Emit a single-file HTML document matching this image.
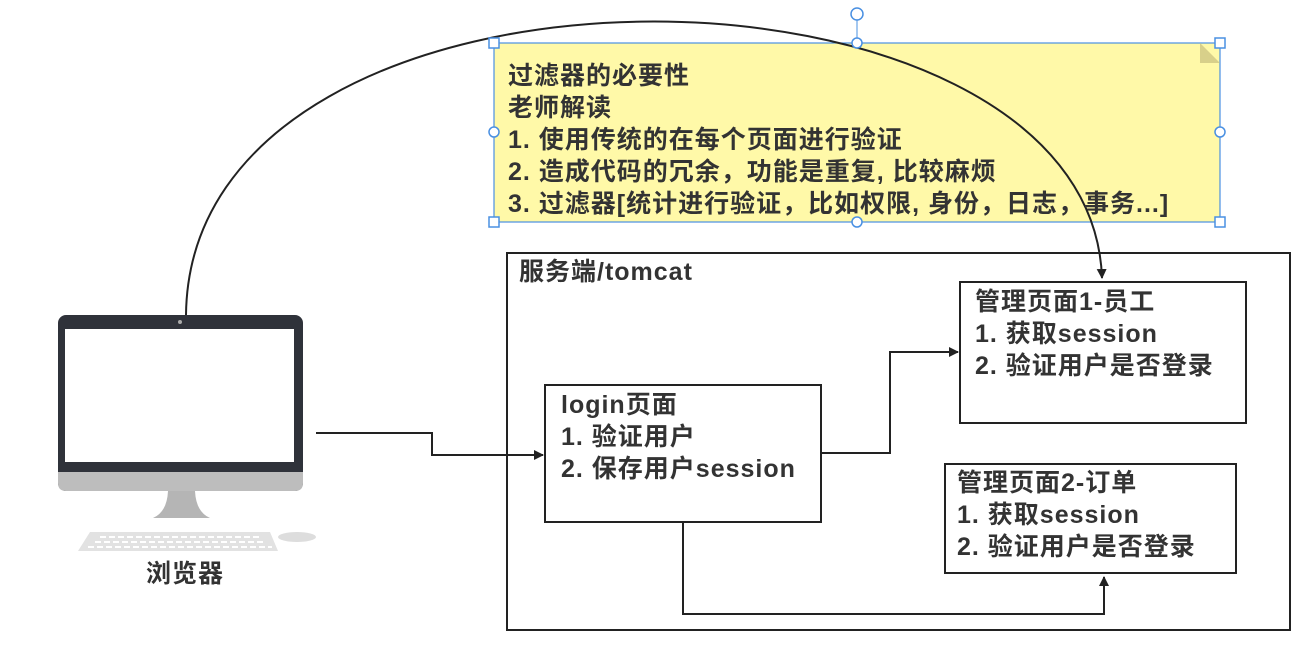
<!DOCTYPE html>
<html><head><meta charset="utf-8"><style>
body{margin:0;width:1310px;height:650px;background:#fff;overflow:hidden;position:relative;font-family:"Liberation Sans","Noto Sans CJK SC",sans-serif;font-weight:bold;color:#333}
.t{position:absolute;font-size:25px;letter-spacing:1px;line-height:32px;white-space:nowrap}
</style></head><body>
<svg width="1310" height="650" style="position:absolute;left:0;top:0">
<defs><marker id="a" markerWidth="10" markerHeight="10" refX="9" refY="5" orient="auto" markerUnits="userSpaceOnUse"><path d="M0,0 L10,5 L0,10 z" fill="#222"/></marker></defs>
<rect x="494" y="43" width="726" height="179" fill="#fff9a8" stroke="#4a90e2" stroke-width="1.2"/>
<path d="M1200 43 L1220 63 L1200 63 z" fill="#d8d08a"/>
<rect x="507" y="253" width="783" height="377" fill="none" stroke="#222" stroke-width="2"/>
<rect x="960" y="282" width="286" height="141" fill="#fff" stroke="#222" stroke-width="2"/>
<rect x="545" y="385" width="276" height="137" fill="#fff" stroke="#222" stroke-width="2"/>
<rect x="945" y="464" width="291" height="109" fill="#fff" stroke="#222" stroke-width="2"/>
<path d="M186 315 C 190 -75, 1090 -65, 1102 278" fill="none" stroke="#222" stroke-width="2" marker-end="url(#a)"/>
<path d="M316 433 H432 V455 H543" fill="none" stroke="#222" stroke-width="2" marker-end="url(#a)"/>
<path d="M821 453 H890 V352 H958" fill="none" stroke="#222" stroke-width="2" marker-end="url(#a)"/>
<path d="M683 522 V614 H1104 V577" fill="none" stroke="#222" stroke-width="2" marker-end="url(#a)"/>
<line x1="857" y1="20" x2="857" y2="43" stroke="#4a90e2"/>
<circle cx="857" cy="14" r="6" fill="#fff" stroke="#4a90e2" stroke-width="1.5"/>
<g fill="#fff" stroke="#4a90e2" stroke-width="1.5">
<rect x="489" y="38" width="10" height="10"/><rect x="1215" y="38" width="10" height="10"/>
<rect x="489" y="217" width="10" height="10"/><rect x="1215" y="217" width="10" height="10"/>
<circle cx="857" cy="43" r="5"/><circle cx="857" cy="222" r="5"/>
<circle cx="494" cy="132" r="5"/><circle cx="1220" cy="132" r="5"/>
</g>
<rect x="58" y="315" width="245" height="176" rx="8" fill="#2f323a"/>
<rect x="65" y="329" width="229" height="133" fill="#fff"/>
<circle cx="180" cy="322" r="2" fill="#aaa"/>
<path d="M58 472 H303 V483 Q303 491 295 491 H66 Q58 491 58 483 z" fill="#bdbdbd"/>
<path d="M168 491 H195 Q196 512 210 518 H153 Q167 512 168 491 z" fill="#b5b5b5"/>
<path d="M90 532 H270 L278 551 H78 z" fill="#e2e2e2"/>
<g stroke="#fff" stroke-width="2" stroke-dasharray="6 3"><line x1="100" y1="537" x2="262" y2="537"/><line x1="95" y1="542" x2="266" y2="542"/><line x1="88" y1="547" x2="272" y2="547"/></g>
<ellipse cx="297" cy="537" rx="19" ry="5" fill="#ddd"/>
</svg>
<div class="t" style="left:508px;top:60px">过滤器的必要性<br>老师解读<br>1. 使用传统的在每个页面进行验证<br>2. 造成代码的冗余，功能是重复, 比较麻烦<br>3. 过滤器[统计进行验证，比如权限, 身份，日志，事务...]</div>
<div class="t" style="left:519px;top:256px">服务端/tomcat</div>
<div class="t" style="left:975px;top:286px">管理页面1-员工<br>1. 获取session<br>2. 验证用户是否登录</div>
<div class="t" style="left:561px;top:389px">login页面<br>1. 验证用户<br>2. 保存用户session</div>
<div class="t" style="left:957px;top:467px">管理页面2-订单<br>1. 获取session<br>2. 验证用户是否登录</div>
<div class="t" style="left:146px;top:558px">浏览器</div>
</body></html>
